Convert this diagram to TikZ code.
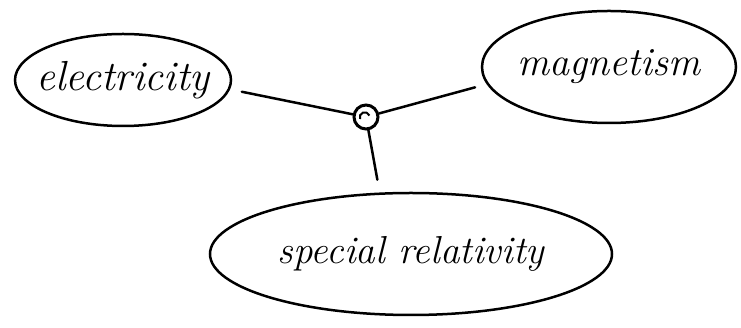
\documentclass[tikz,border=0pt]{standalone}
\usepackage{fontspec}
\usetikzlibrary{shapes.geometric}
\begin{document}
\begin{tikzpicture}[x=1pt,y=1pt,
  blob/.style={ellipse, draw, line width=2.5pt, inner sep=0pt},
  link/.style={line width=2.5pt, line cap=round},
  hub/.style={circle, draw, line width=3pt, minimum size=24pt, inner sep=0pt}]
\useasboundingbox (0,0) rectangle (741,328);
\node[blob, minimum width=216pt, minimum height=92pt,
      font={\fontsize{42}{46}\selectfont\itshape}] (elec) at (123,248) {\makebox[0pt]{electricity}};
\node[blob, minimum width=254pt, minimum height=112pt,
      font={\fontsize{40}{44}\selectfont\itshape}] (mag) at (609,261) {\makebox[0pt]{magnetism}};
\node[blob, minimum width=402pt, minimum height=122pt,
      font={\fontsize{39}{44}\selectfont\itshape}] (rel) at (411,74) {\makebox[0pt]{special relativity}};
\node[hub] (hub) at (366,211) {};
\draw[line width=2pt] (hub.center) ++(-6,-2) arc[start angle=200, end angle=20, radius=5pt];
\draw[link, shorten <=12pt] (elec.-5) -- (hub);
\draw[link, shorten <=12pt] (mag.188) -- (hub);
\draw[link, shorten <=13pt] (rel.117) -- (hub);
\end{tikzpicture}
\end{document}
